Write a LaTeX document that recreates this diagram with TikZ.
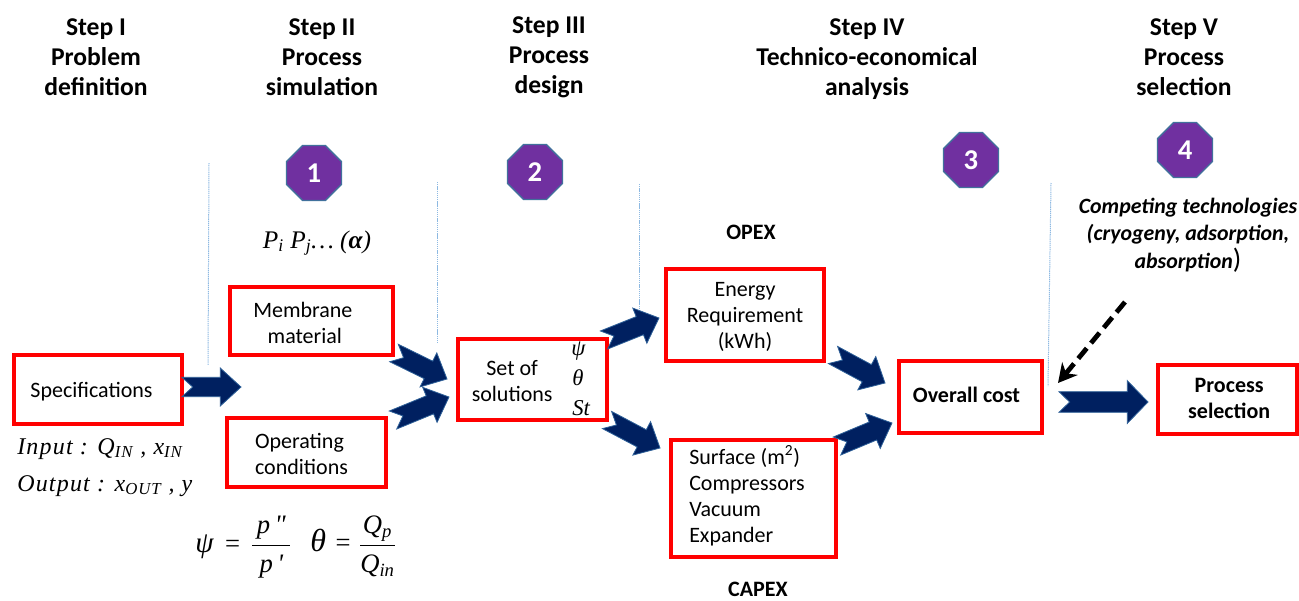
\documentclass[tikz,border=0pt]{standalone}
\usepackage{fontspec}
\setmainfont{Carlito}
\newfontfamily\formulafont{Liberation Serif}
\usetikzlibrary{calc,shapes.geometric,arrows.meta}
\definecolor{boxred}{HTML}{FF0000}
\definecolor{arrownavy}{HTML}{002060}
\definecolor{arrowedge}{HTML}{2E6098}
\definecolor{badgepurple}{HTML}{7030A0}
\definecolor{badgeedge}{HTML}{41719C}
\definecolor{guideblue}{HTML}{8DB9E2}
\def\px{0.75pt}
\def\shafthalf{7.3pt}
\def\headhalf{14.2pt}
\newcommand{\blockarrow}[2]{%
	\coordinate (neck) at ($(#2)!15.5pt!(#1)$);
	\draw[blockshape] ($(#1)!\shafthalf!90:(#2)$) -- ($(#1)!8pt!(#2)$) -- ($(#1)!\shafthalf!-90:(#2)$)
		-- ($(neck)!\shafthalf!-90:(#2)$) -- ($(neck)!\headhalf!-90:(#2)$) -- (#2)
		-- ($(neck)!\headhalf!90:(#2)$) -- ($(neck)!\shafthalf!90:(#2)$) -- cycle;
}
% column format, shift right, shift up, lines
\newcommand{\boxlines}[4]{\raisebox{\dimexpr#3-6pt\relax}[0pt][0pt]{\makebox[0pt]{\kern#2\begin{tabular}[c]{@{}#1@{}}#4\end{tabular}}}}
\begin{document}
\begin{tikzpicture}[x=\px, y=-\px,
	procbox/.style={draw=boxred, line width=3pt, inner sep=0pt, font=\fontsize{16.5}{19.5}\selectfont},
	boldbox/.style={procbox, font=\fontsize{16.5}{19.5}\selectfont\bfseries},
	steptitle/.style={align=center, inner sep=0pt, font=\fontsize{19.2}{22.5}\selectfont\bfseries},
	badge/.style={regular polygon, regular polygon sides=8, minimum size=44.7pt, inner sep=0pt, fill=badgepurple, draw=badgeedge, line width=1pt, text=white, font=\fontsize{21.5}{21.5}\selectfont\bfseries},
	guide/.style={guideblue, line width=0.75pt, dash pattern=on 1pt off 0.6pt},
	blockshape/.style={fill=arrownavy, draw=arrowedge, line width=0.6pt, line join=miter},
	costlabel/.style={inner sep=0pt, font=\fontsize{16.5}{18}\selectfont\bfseries},
	formula/.style={inner sep=0pt, font=\fontsize{19}{24}\selectfont\formulafont\itshape},
	ioformula/.style={anchor=west, inner sep=0pt, font=\fontsize{18}{24}\selectfont\formulafont\itshape\addfontfeature{LetterSpace=5}},
	ratio/.style={anchor=west, inner sep=0pt, font=\fontsize{20}{24}\selectfont\formulafont\itshape},
	varlabel/.style={anchor=west, inner sep=0pt, font=\fontsize{17}{20}\selectfont\formulafont\itshape}]
	\useasboundingbox (0, 0) rectangle (1299, 600);

	% step headings
	\node[steptitle] (stepone) at (96, 57) {Step I\\Problem\\definition};
	\node[steptitle] (steptwo) at (322, 57) {Step II\\Process\\simulation};
	\node[steptitle] (stepthree) at (549, 57.5) {Step III\\Process\\design};
	\node[steptitle] (stepfour) at (867, 59) {Step IV\\Technico-economical\\analysis};
	\node[steptitle] (stepfive) at (1184, 57) {Step V\\Process\\selection};

	\node[badge] (badgeone) at (314, 173) {1};
	\node[badge] (badgetwo) at (535, 172) {2};
	\node[badge] (badgethree) at (971, 160) {3};
	\node[badge] (badgefour) at (1185, 150) {4};

	% process boxes
	\node[procbox, minimum width=168*\px, minimum height=69*\px] (spec) at (98, 389.5) {\boxlines{c}{-9.75pt}{-0.75pt}{Specifications}};
	\node[procbox, minimum width=163*\px, minimum height=68*\px] (membrane) at (311.5, 321) {\boxlines{c}{-10pt}{-1.5pt}{Membrane\kern3pt\\material}};
	\node[procbox, minimum width=159*\px, minimum height=69*\px] (operating) at (306.5, 452.5) {\boxlines{l}{-7.5pt}{-1pt}{Operating\\conditions}};
	\node[procbox, minimum width=149*\px, minimum height=81*\px] (solutions) at (532.5, 379.5) {\boxlines{c}{-30.5pt}{-1pt}{Set of\\solutions}};
	\node[procbox, minimum width=158*\px, minimum height=92*\px] (energy) at (745, 315) {\boxlines{c}{0pt}{0pt}{Energy\\Requirement\\(kWh)}};
	\node[procbox, minimum width=165*\px, minimum height=117*\px] (surface) at (753.5, 498.5) {\boxlines{l}{-9.75pt}{2.25pt}{Surface (m\textsuperscript{2})\\Compressors\\Vacuum\\Expander}};
	\node[boldbox, minimum width=143*\px, minimum height=72*\px] (overall) at (970.5, 397) {\boxlines{c}{-6pt}{1.5pt}{Overall cost}};
	\node[boldbox, minimum width=139*\px, minimum height=69*\px] (selection) at (1227.5, 399.5) {\boxlines{c}{2.5pt}{0.75pt}{Process\\selection}};

	\node[varlabel] (psivar) at (571, 351) {ψ};
	\node[varlabel] (thetavar) at (572, 378) {θ};
	\node[varlabel] (stvar) at (572, 408) {St};

	% free labels
	\node[costlabel] (opex) at (751, 232) {OPEX};
	\node[costlabel] (capex) at (758, 589) {CAPEX};
	\node[formula] (permeances) at (317, 243) {P\textsubscript{i} P\textsubscript{j}\dots\ (\textbf{α})};
	\node[ioformula] (inputs) at (17, 449) {Input : Q\textsubscript{IN} , x\textsubscript{IN}};
	\node[ioformula] (outputs) at (17, 486) {Output : x\textsubscript{OUT} , y};
	\node[ratio] (psiratio) at (195, 547) {{\fontsize{22}{24}\selectfont ψ}\kern7.5pt=\kern7pt$\displaystyle\frac{\mbox{\itshape\,p\,"\,\rule[-5pt]{0pt}{5pt}}}{\mbox{\itshape\,p\,'\,\rule{0pt}{19pt}}}$};
	\node[ratio] (thetaratio) at (310, 546) {{\fontsize{24}{24}\selectfont θ}\kern6pt=\kern5pt$\displaystyle\frac{\mbox{\itshape Q\textsubscript{p}\rule[-5pt]{0pt}{5pt}}}{\mbox{\itshape Q\textsubscript{in}\rule{0pt}{19pt}}}$};
	\node[align=center, inner sep=0pt, font=\fontsize{16.4}{20.5}\selectfont\bfseries\itshape] (competing) at (1188, 235) {Competing technologies\\(cryogeny, adsorption,\\absorption{\fontsize{21}{20.5}\selectfont\upshape\mdseries)}};

	% separators
	\foreach \name/\xa/\ya/\xb/\yb in {one/209/163/208/365, two/437/182/437/343, three/639/184/639/310, four/1051/183/1048/386} {
		\coordinate (guide\name top) at (\xa, \ya);
		\coordinate (guide\name bottom) at (\xb, \yb);
		\draw[guide] (guide\name top) -- (guide\name bottom);
	}

	% block arrows
	\foreach \name/\xa/\ya/\xb/\yb in {spec/182/387/241/387, mem/394/353/447/379, oper/393/420/449/397, up/604/340/659/318, down/607/420/660/448, ener/833/355/885/383, surf/837/446/892/423} {
		\coordinate (\name tail) at (\xa, \ya);
		\coordinate (\name tip) at (\xb, \yb);
		\blockarrow{\name tail}{\name tip}
	}
	\def\shafthalf{7.7pt}
	\def\headhalf{16pt}
	\coordinate (costtail) at (1059, 402);
	\coordinate (costtip) at (1148, 402);
	\blockarrow{costtail}{costtip}

	% competing technologies
	\coordinate (competingfoot) at (1125, 302);
	\coordinate (competingtip) at (1058, 383);
	\draw[-{Stealth[length=14pt, width=15pt]}, line width=3.6pt, dash pattern=on 10pt off 5pt] (competingfoot) -- (competingtip);
\end{tikzpicture}
\end{document}
